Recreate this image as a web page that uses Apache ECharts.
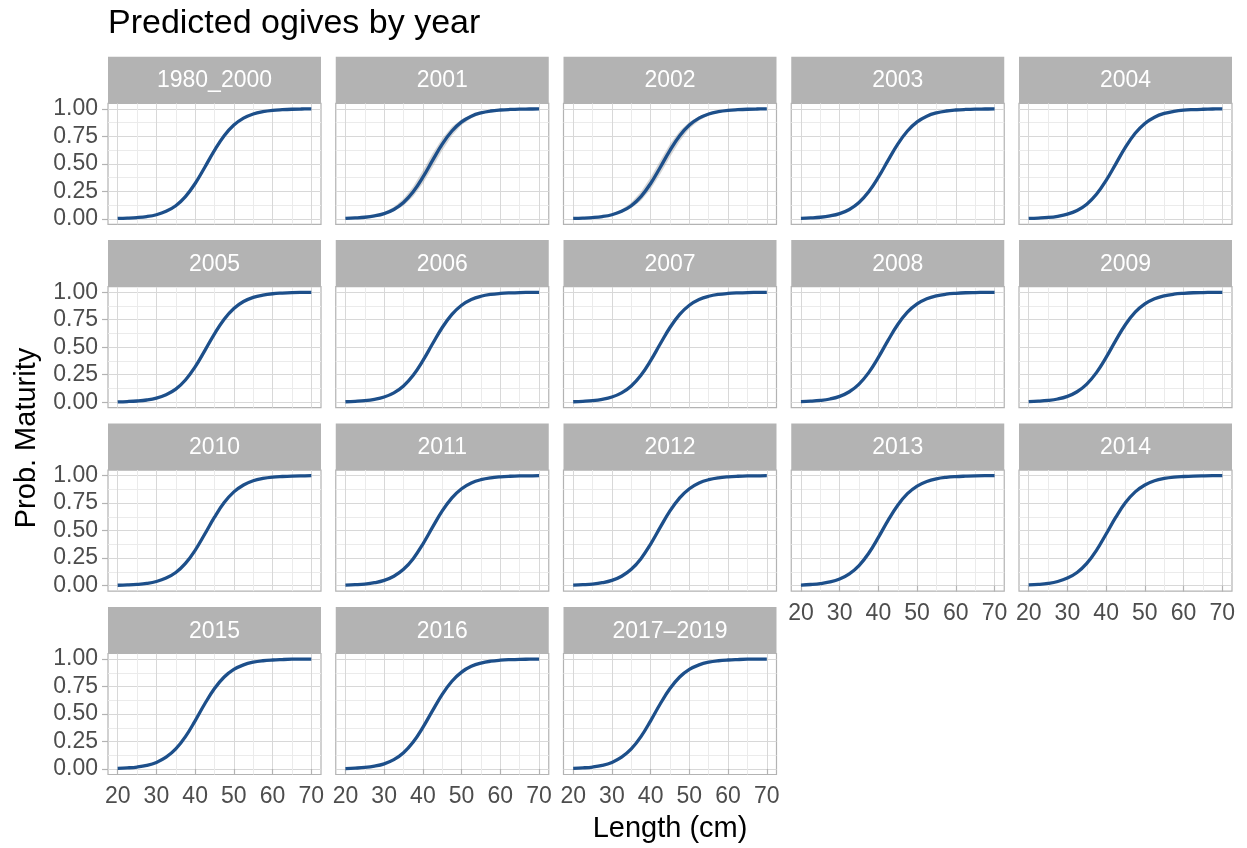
<!DOCTYPE html>
<html>
<head>
<meta charset="utf-8">
<script src="https://cdn.jsdelivr.net/npm/echarts@6/dist/echarts.min.js"></script>
<style>
html,body{margin:0;padding:0;background:#ffffff;}
#chart{width:1247px;height:848px;}
</style>
</head>
<body>
<div id="chart"></div>
<script>
// ---------------- data ----------------
const panelNames = ['1980_2000','2001','2002','2003','2004','2005','2006','2007','2008','2009',
                    '2010','2011','2012','2013','2014','2015','2016','2017\u20132019'];
const lengthCm = [20,22.5,25,27.5,30,32.5,35,37.5,40,42.5,45,47.5,50,52.5,55,57.5,60,62.5,65,67.5,70];

const prob_1980_2000 = [0.003,0.006,0.011,0.020,0.037,0.068,0.119,0.202,0.321,0.469,0.622,0.755,0.852,0.915,0.953,0.974,0.986,0.992,0.996,0.998,0.999];
const prob_2001 = [0.004,0.008,0.014,0.026,0.047,0.085,0.148,0.245,0.378,0.531,0.679,0.798,0.881,0.933,0.963,0.980,0.989,0.994,0.997,0.998,0.999];
const prob_2002 = [0.003,0.006,0.011,0.020,0.037,0.068,0.119,0.202,0.321,0.469,0.622,0.755,0.852,0.915,0.953,0.974,0.986,0.992,0.996,0.998,0.999];
const prob_2003 = [0.004,0.008,0.014,0.026,0.047,0.085,0.148,0.245,0.378,0.531,0.679,0.798,0.881,0.933,0.963,0.980,0.989,0.994,0.997,0.998,0.999];
const prob_2004 = [0.004,0.007,0.012,0.023,0.042,0.076,0.133,0.223,0.349,0.500,0.651,0.777,0.867,0.924,0.958,0.977,0.988,0.993,0.996,0.998,0.999];
const prob_2005 = [0.003,0.006,0.011,0.020,0.037,0.068,0.119,0.202,0.321,0.469,0.622,0.755,0.852,0.915,0.953,0.974,0.986,0.992,0.996,0.998,0.999];
const prob_2006 = [0.004,0.008,0.014,0.026,0.047,0.085,0.148,0.245,0.378,0.531,0.679,0.798,0.881,0.933,0.963,0.980,0.989,0.994,0.997,0.998,0.999];
const prob_2007 = [0.004,0.008,0.014,0.026,0.047,0.085,0.148,0.245,0.378,0.531,0.679,0.798,0.881,0.933,0.963,0.980,0.989,0.994,0.997,0.998,0.999];
const prob_2008 = [0.005,0.009,0.016,0.029,0.053,0.095,0.165,0.269,0.407,0.562,0.706,0.818,0.893,0.940,0.967,0.982,0.990,0.995,0.997,0.998,0.999];
const prob_2009 = [0.005,0.009,0.016,0.029,0.053,0.095,0.165,0.269,0.407,0.562,0.706,0.818,0.893,0.940,0.967,0.982,0.990,0.995,0.997,0.998,0.999];
const prob_2010 = [0.003,0.006,0.011,0.020,0.037,0.068,0.119,0.202,0.321,0.469,0.622,0.755,0.852,0.915,0.953,0.974,0.986,0.992,0.996,0.998,0.999];
const prob_2011 = [0.004,0.008,0.014,0.026,0.047,0.085,0.148,0.245,0.378,0.531,0.679,0.798,0.881,0.933,0.963,0.980,0.989,0.994,0.997,0.998,0.999];
const prob_2012 = [0.004,0.008,0.014,0.026,0.047,0.085,0.148,0.245,0.378,0.531,0.679,0.798,0.881,0.933,0.963,0.980,0.989,0.994,0.997,0.998,0.999];
const prob_2013 = [0.005,0.010,0.018,0.033,0.060,0.107,0.182,0.294,0.438,0.593,0.731,0.836,0.905,0.947,0.971,0.984,0.991,0.995,0.998,0.999,0.999];
const prob_2014 = [0.006,0.011,0.020,0.037,0.068,0.119,0.202,0.321,0.469,0.622,0.755,0.852,0.915,0.953,0.974,0.986,0.992,0.996,0.998,0.999,0.999];
const prob_2015 = [0.005,0.010,0.018,0.033,0.060,0.107,0.182,0.294,0.438,0.593,0.731,0.836,0.905,0.947,0.971,0.984,0.991,0.995,0.998,0.999,0.999];
const prob_2016 = [0.004,0.008,0.014,0.026,0.047,0.085,0.148,0.245,0.378,0.531,0.679,0.798,0.881,0.933,0.963,0.980,0.989,0.994,0.997,0.998,0.999];
const prob_2017_2019 = [0.005,0.010,0.018,0.033,0.060,0.107,0.182,0.294,0.438,0.593,0.731,0.836,0.905,0.947,0.971,0.984,0.991,0.995,0.998,0.999,0.999];

// confidence ribbons (visible in 2001 and 2002)
const band2001Lower = [0.003,0.006,0.011,0.020,0.037,0.068,0.119,0.202,0.321,0.469,0.622,0.755,0.852,0.915,0.953,0.974,0.986,0.992,0.996,0.998,0.999];
const band2001Upper = [0.005,0.010,0.018,0.033,0.060,0.107,0.182,0.294,0.438,0.593,0.731,0.836,0.905,0.947,0.971,0.984,0.991,0.995,0.998,0.999,0.999];
const band2002Lower = [0.002,0.005,0.009,0.016,0.029,0.053,0.095,0.165,0.269,0.407,0.562,0.706,0.818,0.893,0.940,0.967,0.982,0.990,0.995,0.997,0.998];
const band2002Upper = [0.004,0.008,0.014,0.026,0.047,0.085,0.148,0.245,0.378,0.531,0.679,0.798,0.881,0.933,0.963,0.980,0.989,0.994,0.997,0.998,0.999];

const xTickValues = [20,30,40,50,60,70];
const yTickValues = [0,0.25,0.5,0.75,1];

const panelProbs = [prob_1980_2000,prob_2001,prob_2002,prob_2003,prob_2004,prob_2005,prob_2006,prob_2007,
  prob_2008,prob_2009,prob_2010,prob_2011,prob_2012,prob_2013,prob_2014,prob_2015,prob_2016,prob_2017_2019];
const panelBands = {1:[band2001Lower,band2001Upper], 2:[band2002Lower,band2002Upper]};

// ---------------- layout ----------------
const FONT = '"Liberation Sans", Arial, Helvetica, sans-serif';
const NCOL = 5;
const LEFT0 = 108, COL_PITCH = 227.75, PANEL_W = 213;
const PLOT_TOP0 = 103.3, ROW_PITCH = 183.4, PLOT_H = 121, STRIP_H = 46.6;
const LINE_COLOR = '#1d4f8a';
const T = 'rgba(0,0,0,0)', MAJ = '#d8d8d8', MIN = '#ebebeb';

const grids = [], xAxes = [], yAxes = [], series = [], graphics = [];

panelNames.forEach((name, i) => {
  const r = Math.floor(i / NCOL), c = i % NCOL;
  const left = LEFT0 + c * COL_PITCH;
  const top = PLOT_TOP0 + r * ROW_PITCH;
  const showX = (i + NCOL) >= panelNames.length;
  const showY = c === 0;

  grids.push({left: left, top: top, width: PANEL_W, height: PLOT_H, show: true,
    backgroundColor: '#ffffff', borderColor: '#b3b3b3', borderWidth: 1.2, containLabel: false});

  // gridline axes
  xAxes.push({type: 'value', gridIndex: i, min: 17.5, max: 72.5, interval: 2.5,
    axisLine: {show: false}, axisTick: {show: false}, axisLabel: {show: false},
    splitLine: {show: true, lineStyle: {color: [T, MAJ, T, MIN], width: 1}}});
  yAxes.push({type: 'value', gridIndex: i, min: -0.05, max: 1.05, interval: 0.025,
    axisLine: {show: false}, axisTick: {show: false}, axisLabel: {show: false},
    splitLine: {show: true, lineStyle: {color: [T, T, MAJ, T, T, T, T, MIN, T, T], width: 1}}});
  // label / tick axes
  xAxes.push({type: 'value', gridIndex: i, min: 17.5, max: 72.5, position: 'bottom',
    axisLine: {show: false},
    axisTick: {show: showX, customValues: xTickValues, length: 6, lineStyle: {color: '#b3b3b3', width: 1.2}},
    axisLabel: {show: showX, customValues: xTickValues, color: '#4d4d4d', fontSize: 23, fontFamily: FONT, margin: 11,
      formatter: v => String(v)},
    splitLine: {show: false}});
  yAxes.push({type: 'value', gridIndex: i, min: -0.05, max: 1.05, position: 'left',
    axisLine: {show: false},
    axisTick: {show: showY, customValues: yTickValues, length: 6, lineStyle: {color: '#b3b3b3', width: 1.2}},
    axisLabel: {show: showY, customValues: yTickValues, color: '#4d4d4d', fontSize: 23, fontFamily: FONT, margin: 10,
      formatter: v => Number(v).toFixed(2)},
    splitLine: {show: false}});

  const band = panelBands[i];
  if (band) {
    const lo = band[0], hi = band[1];
    series.push({type: 'custom', xAxisIndex: 2 * i, yAxisIndex: 2 * i, z: 2, silent: true,
      data: [[45, 0.5]],
      renderItem: function (params, api) {
        const pts = [];
        for (let k = 0; k < lengthCm.length; k++) pts.push(api.coord([lengthCm[k], hi[k]]));
        for (let k = lengthCm.length - 1; k >= 0; k--) pts.push(api.coord([lengthCm[k], lo[k]]));
        return {type: 'polygon', shape: {points: pts}, style: {fill: 'rgba(153,153,153,0.4)'}};
      }});
  }
  const probs = panelProbs[i];
  series.push({type: 'line', name: name, xAxisIndex: 2 * i, yAxisIndex: 2 * i, smooth: 0.4,
    symbol: 'none', showSymbol: false, silent: true, z: 3,
    lineStyle: {color: LINE_COLOR, width: 3.3},
    data: lengthCm.map((x, k) => [x, probs[k]])});

  // strip
  graphics.push({type: 'rect', left: left, top: top - STRIP_H, z: 10,
    shape: {width: PANEL_W, height: STRIP_H}, style: {fill: '#b3b3b3'}, silent: true});
  graphics.push({type: 'text', x: left + PANEL_W / 2, y: top - STRIP_H / 2 + 1, z: 11, silent: true,
    style: {text: name, fill: '#ffffff', font: '23px ' + FONT, textAlign: 'center', textVerticalAlign: 'middle'}});
});

// titles
graphics.push({type: 'text', x: 108, y: 24, z: 11, silent: true,
  style: {text: 'Predicted ogives by year', fill: '#000000', font: '34px ' + FONT, textAlign: 'left', textVerticalAlign: 'middle'}});
graphics.push({type: 'text', x: 670, y: 829, z: 11, silent: true,
  style: {text: 'Length (cm)', fill: '#000000', font: '29px ' + FONT, textAlign: 'center', textVerticalAlign: 'middle'}});
graphics.push({type: 'text', x: 27, y: 438, rotation: Math.PI / 2, z: 11, silent: true,
  style: {text: 'Prob. Maturity', fill: '#000000', font: '29px ' + FONT, textAlign: 'center', textVerticalAlign: 'middle'}});

const chart = echarts.init(document.getElementById('chart'), null, {renderer: 'canvas', width: 1247, height: 848});
chart.setOption({
  animation: false,
  backgroundColor: '#ffffff',
  grid: grids,
  xAxis: xAxes,
  yAxis: yAxes,
  series: series,
  graphic: graphics
});
</script>
</body>
</html>
